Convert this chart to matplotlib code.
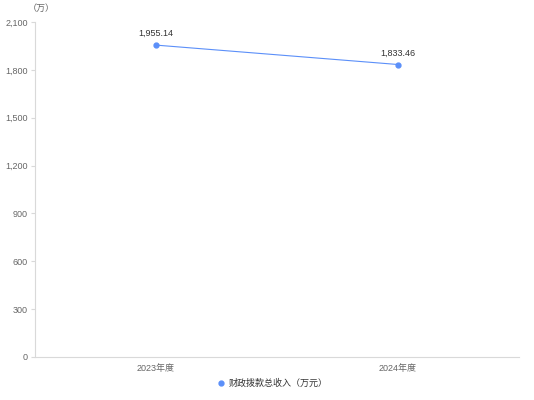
import matplotlib
matplotlib.use("Agg")
import matplotlib.pyplot as plt

plt.rcParams['font.family'] = ['Liberation Sans', 'Noto Sans CJK SC', 'DejaVu Sans']

categories = ["2023年度", "2024年度"]
values = [1955.14, 1833.46]
series_name = "财政拨款总收入（万元）"
yticks = [0, 300, 600, 900, 1200, 1500, 1800, 2100]

line_color = "#5b8ff9"
text_color = "#666666"

fig = plt.figure(figsize=(5.34, 4.0), dpi=100)
ax = fig.add_axes([0.0655, 0.1075, 0.9065, 0.8375])

x = list(range(len(categories)))
ax.plot(x, values, color=line_color, linewidth=0.8, marker="o", markersize=3.5,
        label=series_name, zorder=3)
for xi, v in zip(x, values):
    ax.annotate(f"{v:,.2f}", (xi, v), xytext=(0, 5), textcoords="offset points",
                ha="center", va="bottom", fontsize=6.5, color="#333333")

ax.set_xlim(-0.5, 1.5)
ax.set_ylim(0, 2100)
ax.set_xticks(x)
ax.set_xticklabels(categories)
ax.set_yticks(yticks)
ax.set_yticklabels([f"{t:,}" for t in yticks])

for s in ["top", "right"]:
    ax.spines[s].set_visible(False)
ax.spines["left"].set_color("#d9d9d9")
ax.spines["bottom"].set_color("#d9d9d9")
ax.spines["left"].set_linewidth(0.8)
ax.spines["bottom"].set_linewidth(0.8)
ax.tick_params(axis="y", length=3, color="#d9d9d9", labelsize=6.5, labelcolor=text_color, pad=2)
ax.tick_params(axis="x", length=0, labelsize=6.5, labelcolor=text_color, pad=5)

fig.text(0.052, 0.978, "（万）", fontsize=6.5, color=text_color, ha="left", va="center")

fig.legend(loc="center", bbox_to_anchor=(0.51, 0.042), frameon=False, fontsize=6.5,
           handlelength=0.8, handletextpad=0.4, labelcolor="#333333")
leg = fig.legends[0]
for h in leg.legend_handles:
    h.set_linestyle("None")

fig.savefig("out.png", dpi=100)
